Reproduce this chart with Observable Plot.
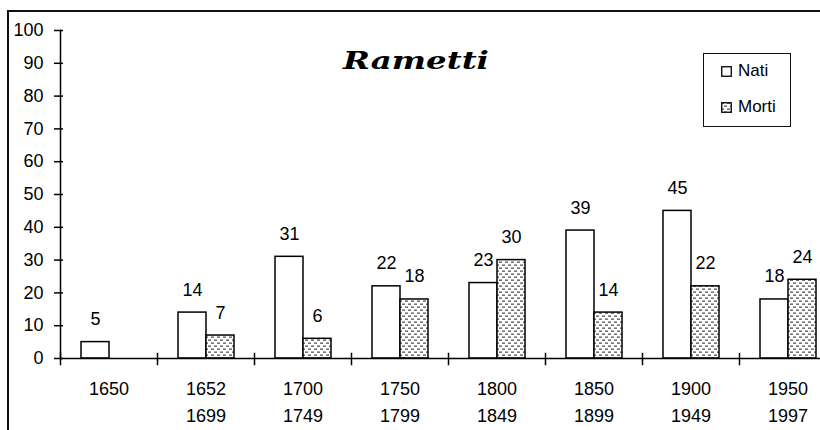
<!DOCTYPE html>
<html>
<head>
<meta charset="utf-8">
<script src="https://cdn.jsdelivr.net/npm/d3@7"></script>
<script src="https://cdn.jsdelivr.net/npm/@observablehq/plot@0.6"></script>
<style>
  html, body { margin: 0; padding: 0; background: #fff; overflow: hidden; }
  #wrap { position: relative; width: 820px; height: 430px; overflow: hidden; font-family: "Liberation Sans", Arial, sans-serif; }
  #border { position: absolute; left: 7px; top: 9.5px; width: 900px; height: 600px; border: 2px solid #111; box-sizing: border-box; }
  #chart { position: absolute; left: 0; top: 0; width: 850px; }
  #chart svg { max-width: none !important; }
  #title { position: absolute; left: 416px; top: 46px; transform: translateX(-50%) scaleX(1.35); transform-origin: center;
           font-family: "DejaVu Serif", serif; font-style: italic; font-weight: bold; font-size: 24px; white-space: nowrap; color: #000; }
  #legend { position: absolute; left: 703px; top: 53px; width: 88px; height: 74px; border: 1.5px solid #111; box-sizing: border-box; background: #fff; }
  .item { position: absolute; left: 17px; font-size: 17px; line-height: 20px; display: flex; align-items: center; }
  .item svg { margin-right: 6px; }
</style>
</head>
<body>
<div id="wrap">
  <div id="border"></div>
  <div id="chart"></div>
  <div id="title">Rametti</div>
  <div id="legend"></div>
</div>
<svg width="0" height="0" style="position:absolute">
  <defs>
    <pattern id="hatch" patternUnits="userSpaceOnUse" width="6" height="6">
      <rect width="6" height="6" fill="#fff"></rect>
      <rect x="0" y="0.5" width="3" height="1.3" fill="#555"></rect>
      <rect x="3" y="3.5" width="3" height="1.3" fill="#555"></rect>
    </pattern>
  </defs>
</svg>
<script>
// ---- data ----
const periods = ["1650", "1652\n1699", "1700\n1749", "1750\n1799", "1800\n1849", "1850\n1899", "1900\n1949", "1950\n1997"];
const series = ["Nati", "Morti"];
const nati  = [5, 14, 31, 22, 23, 39, 45, 18];
const morti = [null, 7, 6, 18, 30, 14, 22, 24];
const yTicks = [0, 10, 20, 30, 40, 50, 60, 70, 80, 90, 100];

const rowsNati = periods.map((p, i) => ({period: p, series: "Nati", value: nati[i]})).filter(d => d.value != null);
const rowsMorti = periods.map((p, i) => ({period: p, series: "Morti", value: morti[i]})).filter(d => d.value != null);
const rows = rowsNati.concat(rowsMorti);

const chart = Plot.plot({
  width: 850,
  height: 440,
  marginLeft: 60,
  marginRight: 14,
  marginTop: 30,
  marginBottom: 82,
  style: {fontFamily: "Liberation Sans, Arial, sans-serif", fontSize: "18px", color: "#000", background: "transparent", overflow: "visible", maxWidth: "none"},
  fx: {domain: periods, padding: 0, label: null},
  x: {domain: series, paddingInner: 0, paddingOuter: 0.73, axis: null},
  y: {domain: [0, 100], label: null},
  marks: [
    Plot.barY(rowsNati, {fx: "period", x: "series", y: "value", fill: "white", stroke: "#000", strokeWidth: 1.5}),
    Plot.barY(rowsMorti, {fx: "period", x: "series", y: "value", fill: "url(#hatch)", stroke: "#000", strokeWidth: 1.5}),
    Plot.text(rows, {fx: "period", x: "series", y: "value", text: d => String(d.value), dy: -17, lineAnchor: "bottom", fill: "#000", fontSize: 18}),
    Plot.ruleY([0], {stroke: "#000", strokeWidth: 1.5}),
    Plot.frame({anchor: "left", facetAnchor: "left", stroke: "#000", strokeWidth: 1.5}),
    Plot.frame({anchor: "left", insetTop: 323, insetBottom: -6, stroke: "#000", strokeWidth: 1.5}),
    Plot.axisY({ticks: yTicks, tickSize: 6, tickPadding: 11, strokeWidth: 1.5, label: null, fontSize: 18}),
    Plot.axisY({ticks: yTicks, tickSize: -3, text: null, strokeWidth: 1.5, label: null}),
    Plot.axisFx({anchor: "bottom", tickSize: 0, tickPadding: 17, lineHeight: 1.5, label: null, fontSize: 18})
  ]
});
document.getElementById("chart").appendChild(chart);

// legend
const legend = document.getElementById("legend");
const legendFill = {"Nati": "white", "Morti": "url(#hatch)"};
series.forEach((s, i) => {
  const div = document.createElement("div");
  div.className = "item";
  div.style.top = (7 + i * 36) + "px";
  div.innerHTML = `<svg width="11" height="11"><rect x="0.75" y="0.75" width="9.5" height="9.5" fill="${legendFill[s]}" stroke="#000" stroke-width="1.3"></rect></svg><span>${s}</span>`;
  legend.appendChild(div);
});
</script>
</body>
</html>
